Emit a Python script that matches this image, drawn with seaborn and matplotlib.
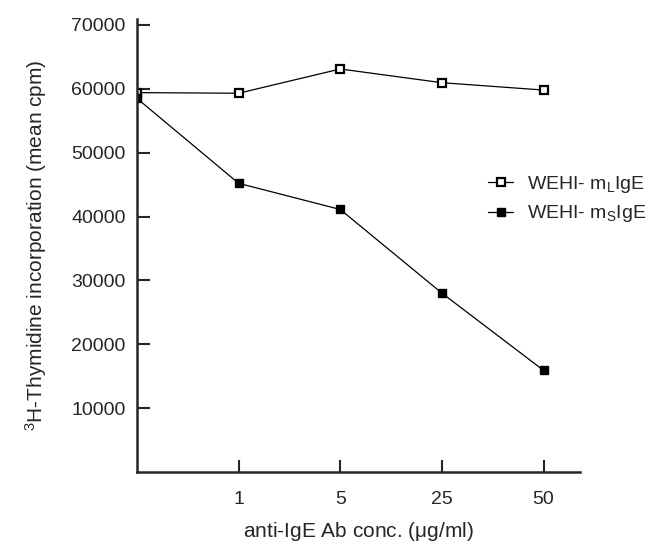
import pandas as pd
import numpy as np
import matplotlib
matplotlib.use("Agg")
import matplotlib.pyplot as plt
import seaborn as sns

# anti-IgE concentrations (ug/ml), first point is the control (no label)
conc = ["0", "1", "5", "25", "50"]
mL_cpm = [59400, 59300, 63100, 60950, 59800]
mS_cpm = [58500, 45200, 41100, 28000, 15900]
series_names = [r"WEHI- m$_\mathregular{L}$IgE", r"WEHI- m$_\mathregular{S}$IgE"]
yticks = [10000, 20000, 30000, 40000, 50000, 60000, 70000]

sns.set_style("ticks")
plt.rcParams["font.family"] = ["Liberation Sans", "DejaVu Sans"]
plt.rcParams["mathtext.fontset"] = "custom"
plt.rcParams["mathtext.rm"] = "Liberation Sans"
plt.rcParams["mathtext.it"] = "Liberation Sans:italic"

pos = np.arange(len(conc))
df = pd.DataFrame({
    "pos": np.concatenate([pos, pos]),
    "cpm": mL_cpm + mS_cpm,
    "line": [series_names[0]] * len(conc) + [series_names[1]] * len(conc),
})

fig = plt.figure(figsize=(6.49, 5.53), dpi=100)
ax = fig.add_axes([0.211, 0.1465, 0.683, 0.82])

sns.lineplot(data=df[df.line == series_names[0]], x="pos", y="cpm", ax=ax,
             color="black", lw=0.9, marker="s", markersize=6,
             markerfacecolor="white", markeredgecolor="black", markeredgewidth=1.6,
             label=series_names[0])
sns.lineplot(data=df[df.line == series_names[1]], x="pos", y="cpm", ax=ax,
             color="black", lw=0.9, marker="s", markersize=6,
             markerfacecolor="black", markeredgecolor="black", markeredgewidth=1.0,
             label=series_names[1])

ax.set_xlim(0, 4.36)
ax.set_ylim(0, 71000)
ax.set_xticks(pos[1:])
ax.set_xticklabels(conc[1:], fontsize=14)
ax.set_yticks(yticks)
ax.set_yticklabels([str(v) for v in yticks], fontsize=14)
ax.tick_params(direction="in", length=9, width=1.5, pad=8)
ax.tick_params(axis="x", pad=14)

for side in ["top", "right"]:
    ax.spines[side].set_visible(False)
for side in ["left", "bottom"]:
    ax.spines[side].set_linewidth(1.8)

ax.set_xlabel(r"anti-IgE Ab conc. ($\mathregular{\mu}$g/ml)", fontsize=15, labelpad=8)
ax.set_ylabel(r"$\mathregular{^3}$H-Thymidine incorporation (mean cpm)", fontsize=15, labelpad=16)

ax.legend(loc="center left", bbox_to_anchor=(0.752, 0.64), bbox_transform=fig.transFigure,
          frameon=False, fontsize=14, handlelength=1.3, handletextpad=0.7, labelspacing=0.45,
          borderpad=0, borderaxespad=0)

fig.savefig("out.png", dpi=100)
